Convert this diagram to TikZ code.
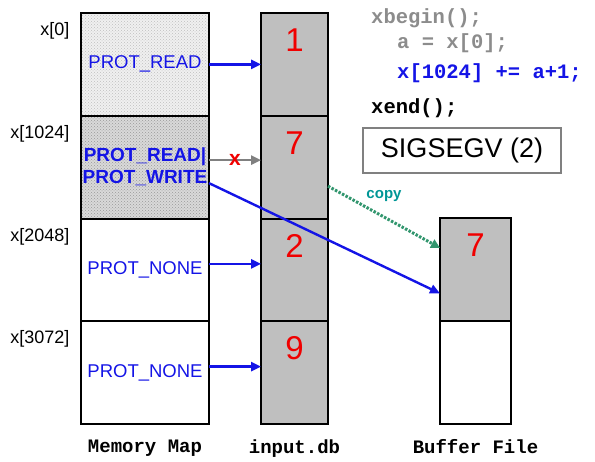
\documentclass[tikz,border=0pt]{standalone}
\usepackage{fontspec}
\setmainfont{Liberation Sans}
\setmonofont{Liberation Mono}
\usetikzlibrary{positioning,arrows.meta,patterns}
\definecolor{protblue}{RGB}{20,20,230}
\definecolor{numred}{RGB}{240,0,0}
\definecolor{copyteal}{RGB}{0,150,150}
\definecolor{copygreen}{RGB}{50,150,110}
\definecolor{codegray}{RGB}{140,140,140}
\begin{document}
\begin{tikzpicture}[x=1pt,y=-1pt,
	cell/.style={draw, line width=2pt, outer sep=0pt, inner sep=0pt, minimum height=102.75pt},
	memcell/.style={cell, minimum width=128pt, text=protblue, font=\fontsize{18.5}{22}\selectfont},
	dbcell/.style={cell, minimum width=67pt, fill=gray!50},
	bufcell/.style={cell, minimum width=71pt},
	num/.style={text=numred, font=\fontsize{33}{33}\selectfont},
	addr/.style={anchor=east, font=\fontsize{18}{18}\selectfont},
	code/.style={anchor=west, inner sep=0pt, font=\fontsize{20.5}{20.5}\ttfamily\bfseries},
	caption/.style={font=\fontsize{19}{19}\ttfamily\bfseries},
	map/.style={-{Triangle[length=10pt,width=9pt]}, line width=2.4pt, protblue}]
	\useasboundingbox (0,0) rectangle (595,461);
	% memory map
	\node[memcell, anchor=north west, preaction={fill=gray!12}, pattern=crosshatch dots, pattern color=gray!50] (m0) at (81,13) {PROT\_READ};
	\node[memcell, below=0pt of m0, align=center, font=\fontsize{19}{22}\selectfont\bfseries, preaction={fill=gray!30}, pattern=crosshatch dots, pattern color=gray!80] (m1) {PROT\_READ|\\PROT\_WRITE};
	\node[memcell, below=0pt of m1] (m2) {PROT\_NONE};
	\node[memcell, below=0pt of m2] (m3) {PROT\_NONE};
	\foreach \i/\a in {0/0,1/1024,2/2048,3/3072}
		\node[addr] at ([xshift=-8pt,yshift=-18pt]m\i.north west) {x[\a]};
	% input.db and buffer file
	\node[dbcell, anchor=north west] (i0) at (261,13) {};
	\node[dbcell, below=0pt of i0] (i1) {};
	\node[dbcell, below=0pt of i1] (i2) {};
	\node[dbcell, below=0pt of i2] (i3) {};
	\node[bufcell, anchor=north west, fill=gray!50] (b0) at (440,218) {};
	\node[bufcell, below=0pt of b0] (b1) {};
	\foreach \c/\n in {i0/1,i1/7,i2/2,i3/9,b0/7}
		\node[num] at ([yshift=-27pt]\c.north) {\n};
	% mappings
	\draw[map] (m0.east) -- (i0.west);
	\draw[map] ([yshift=6pt]m2.east) -- ([yshift=6pt]i2.west);
	\draw[map] ([yshift=6pt]m3.east) -- ([yshift=6pt]i3.west);
	\draw[map, gray] ([yshift=7pt]m1.east) -- node[text=numred, font=\fontsize{21}{21}\selectfont\bfseries] {x} ([yshift=7pt]i1.west);
	\draw[map] ([yshift=-16pt]m1.east) -- ([yshift=-24pt]b0.west);
	\draw[-{Triangle[length=9pt,width=9pt]}, copygreen, line width=3pt, dash pattern=on 2.5pt off 1.5pt] ([yshift=-19pt]i1.east) -- node[midway, above=11pt, text=copyteal, font=\fontsize{15}{15}\selectfont\bfseries] {copy} ([yshift=21.5pt]b0.west);
	% code
	\node[code, text=codegray] (c1) at (371,18) {xbegin();};
	\node[code, text=codegray] (c2) at (397,43) {a = x[0];};
	\node[code, text=protblue] (c3) at (397,73) {x[1024] += a+1;};
	\node[code] (c4) at (371,108) {xend();};
	\node[draw=gray, line width=1.2pt, minimum width=198pt, minimum height=45pt, font=\fontsize{27}{27}\selectfont] (sig) at (462,150.5) {SIGSEGV (2)};
	% captions
	\node[caption, below=12pt of m3] {Memory Map};
	\node[caption, below=12pt of i3] {input.db};
	\node[caption, below=12pt of b1] {Buffer File};
\end{tikzpicture}
\end{document}
